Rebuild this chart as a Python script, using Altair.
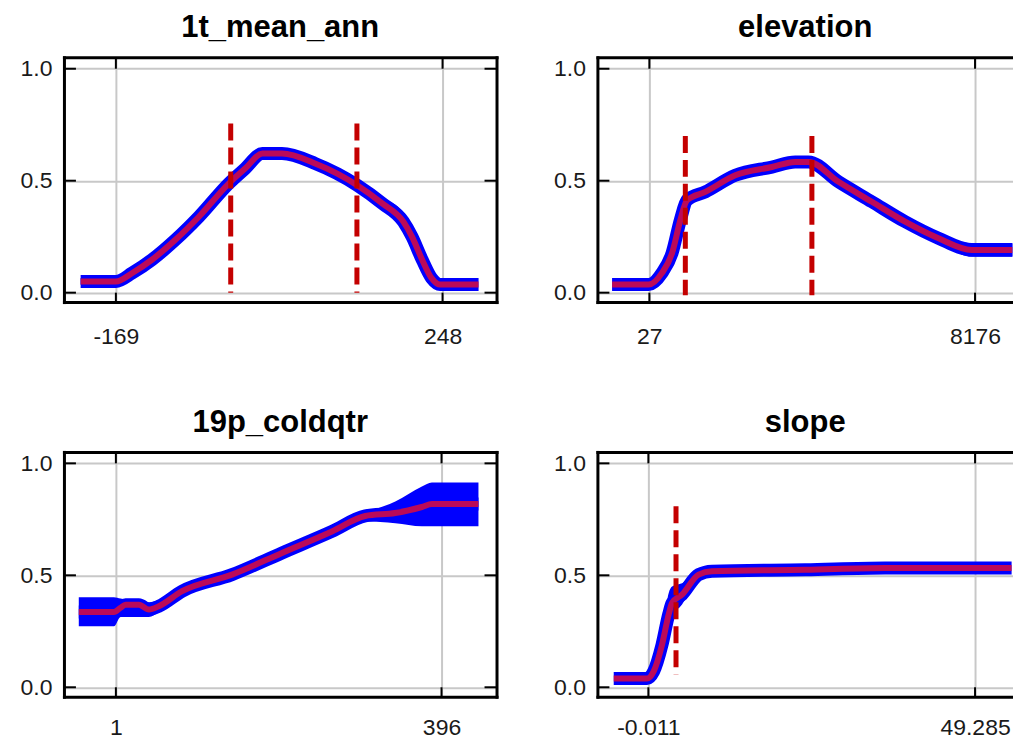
import altair as alt
import pandas as pd

# ---------------- data ----------------
# panel 1: 1t_mean_ann
p1_x = [-214, -169, -148, -123, -93, -63, -25, -4, 18, 43, 86, 139, 171, 198, 209, 222, 234, 245, 294]
p1_m = [0.05, 0.05, 0.088, 0.147, 0.236, 0.339, 0.487, 0.554, 0.621, 0.621, 0.576, 0.48, 0.399, 0.317, 0.25, 0.147, 0.065, 0.036, 0.036]
p1_lo = [0.035, 0.035, 0.063, 0.117, 0.206, 0.309, 0.467, 0.549, 0.621, 0.621, 0.576, 0.47, 0.385, 0.3, 0.235, 0.147, 0.065, 0.036, 0.036]
p1_hi = [0.065, 0.065, 0.113, 0.177, 0.266, 0.369, 0.507, 0.559, 0.621, 0.621, 0.576, 0.49, 0.425, 0.355, 0.27, 0.147, 0.065, 0.036, 0.036]
p1_ticks = [-169, 248]
p1_dash_x = [-22.4, 138.7]
p1_dash_top = [0.755, 0.755]
p1_dash_bot = [0.0, 0.0]

# panel 2: elevation
p2_x = [-906, 10, 344, 594, 802, 969, 1427, 2177, 3094, 3677, 4010, 4760, 5594, 6426, 7260, 8093, 9110]
p2_m = [0.036, 0.036, 0.088, 0.176, 0.324, 0.413, 0.45, 0.524, 0.561, 0.584, 0.584, 0.495, 0.406, 0.317, 0.243, 0.191, 0.191]
p2_lo = [0.036, 0.036, 0.088, 0.176, 0.324, 0.4, 0.44, 0.515, 0.555, 0.584, 0.584, 0.49, 0.398, 0.305, 0.228, 0.16, 0.16]
p2_hi = [0.036, 0.036, 0.088, 0.176, 0.324, 0.435, 0.47, 0.535, 0.565, 0.584, 0.584, 0.5, 0.41, 0.325, 0.255, 0.222, 0.222]
p2_ticks = [27, 8176]
p2_dash_x = [927, 4094]
p2_dash_top = [0.70, 0.70]
p2_dash_bot = [-0.012, -0.012]

# panel 3: 19p_coldqtr
p3_x = [-44, -1.4, 6.7, 12.8, 28.9, 41, 53.1, 81.3, 141.8, 202.5, 263.1, 303.5, 339.9, 372.2, 384.3, 440.8]
p3_m = [0.336, 0.336, 0.355, 0.369, 0.369, 0.347, 0.362, 0.429, 0.503, 0.6, 0.696, 0.765, 0.778, 0.805, 0.818, 0.818]
p3_lo = [0.272, 0.272, 0.314, 0.314, 0.314, 0.314, 0.335, 0.415, 0.49, 0.585, 0.68, 0.74, 0.733, 0.719, 0.719, 0.719]
p3_hi = [0.402, 0.402, 0.396, 0.391, 0.391, 0.38, 0.39, 0.445, 0.515, 0.615, 0.71, 0.778, 0.83, 0.897, 0.915, 0.915]
p3_ticks = [1, 396]

# panel 4: slope
p4_x = [-5.24, -0.21, 0.79, 2.05, 3.05, 3.56, 5.07, 7.57, 9.59, 23.66, 35.7, 54.8]
p4_m = [0.039, 0.039, 0.071, 0.19, 0.325, 0.376, 0.414, 0.503, 0.518, 0.525, 0.533, 0.533]
p4_lo = [0.039, 0.039, 0.071, 0.17, 0.26, 0.31, 0.37, 0.495, 0.518, 0.525, 0.533, 0.533]
p4_hi = [0.039, 0.039, 0.071, 0.23, 0.42, 0.45, 0.465, 0.515, 0.518, 0.525, 0.533, 0.533]
p4_ticks = [-0.011, 49.285]
p4_dash_x = [4.16]
p4_dash_top = [0.808]
p4_dash_bot = [0.057]

y_ticks = [0.0, 0.5, 1.0]
y_domain = [-0.042, 1.051]

BLUE = "#0000ff"
RED = "#dc0c3c"
DASH = "#c40000"
H = 245
TICK_LEN = 12


def panel(title, xs, ms, los, his, xdom, ticks, width, label_pad, dash=None, right_frame=True):
    df = pd.DataFrame({"x": xs, "m": ms, "lo": los, "hi": his})
    tdf = pd.DataFrame({"t": ticks})
    ydf = pd.DataFrame({"v": y_ticks})
    xsc = alt.Scale(domain=xdom, nice=False, zero=False)
    ysc = alt.Scale(domain=y_domain, nice=False, zero=False)

    ax_bottom = alt.Axis(orient="bottom", values=ticks, labelExpr="'' + datum.value",
                         grid=True, ticks=False, tickSize=0, labelPadding=label_pad, title=None,
                         labelFlush=False)
    ax_left = alt.Axis(orient="left", values=y_ticks, format=".1f", grid=True,
                       ticks=False, tickSize=0, labelPadding=12, title=None)
    ax_top = alt.Axis(orient="top", labels=False, grid=False, ticks=False, tickSize=0, title=None)
    ax_right = alt.Axis(orient="right", labels=False, grid=False, ticks=False, tickSize=0,
                        title=None) if right_frame else None

    band = alt.Chart(df).mark_area(color=BLUE, clip=True, interpolate="monotone").encode(
        x=alt.X("x:Q", scale=xsc, axis=ax_bottom),
        y=alt.Y("lo:Q", scale=ysc, axis=ax_left),
        y2="hi:Q",
    )
    top_ticks = alt.Chart(tdf).mark_rule(color="black", strokeWidth=2).encode(
        x=alt.X("t:Q", scale=xsc, axis=ax_top),
        y=alt.Y(datum=1.0, scale=ysc, axis=ax_right),
        y2=alt.value(0),
    )
    blue_line = alt.Chart(df).mark_line(color=BLUE, strokeWidth=13, clip=True,
                                        interpolate="monotone").encode(
        x=alt.X("x:Q", scale=xsc, axis=None),
        y=alt.Y("m:Q", scale=ysc, axis=None),
    )
    red_line = alt.Chart(df).mark_line(color=RED, strokeWidth=6, opacity=0.85, clip=True,
                                       interpolate="monotone").encode(
        x=alt.X("x:Q", scale=xsc, axis=None),
        y=alt.Y("m:Q", scale=ysc, axis=None),
    )
    bot_ticks = alt.Chart(tdf).mark_rule(color="black", strokeWidth=2).encode(
        x=alt.X("t:Q", scale=xsc, axis=None),
        y=alt.Y(datum=0.0, scale=ysc, axis=None),
        y2=alt.value(H),
    )
    left_ticks = alt.Chart(ydf).mark_rule(color="black", strokeWidth=2).encode(
        y=alt.Y("v:Q", scale=ysc, axis=None),
        x=alt.value(0),
        x2=alt.value(TICK_LEN),
    )
    layers = [band, top_ticks, blue_line, red_line, bot_ticks, left_ticks]
    if right_frame:
        right_ticks = alt.Chart(ydf).mark_rule(color="black", strokeWidth=2).encode(
            y=alt.Y("v:Q", scale=ysc, axis=None),
            x=alt.value(width - TICK_LEN),
            x2=alt.value(width),
        )
        layers.append(right_ticks)
    if dash is not None:
        ddf = pd.DataFrame({"dx": dash[0], "top": dash[1], "bot": dash[2]})
        dashes = alt.Chart(ddf).mark_rule(color=DASH, strokeWidth=5, strokeDash=[17, 7]).encode(
            x=alt.X("dx:Q", scale=xsc, axis=None),
            y=alt.Y("top:Q", scale=ysc, axis=None),
            y2="bot:Q",
        )
        layers.append(dashes)
    return alt.layer(*layers).resolve_axis(x="independent", y="independent").properties(
        width=width, height=H, title=alt.Title(title, offset=12)
    )


WL = 433
WR = 416
p1 = panel("1t_mean_ann", p1_x, p1_m, p1_lo, p1_hi, [-235.3, 316.9], p1_ticks, WL, 23,
           dash=(p1_dash_x, p1_dash_top, p1_dash_bot))
p2 = panel("elevation", p2_x, p2_m, p2_lo, p2_hi, [-1272.8, 9125.9], p2_ticks, WR, 23,
           dash=(p2_dash_x, p2_dash_top, p2_dash_bot), right_frame=False)
p3 = panel("19p_coldqtr", p3_x, p3_m, p3_lo, p3_hi, [-62.0, 462.7], p3_ticks, WL, 20)
p4 = panel("slope", p4_x, p4_m, p4_lo, p4_hi, [-7.70, 55.01], p4_ticks, WR, 20,
           dash=(p4_dash_x, p4_dash_top, p4_dash_bot), right_frame=False)

chart = alt.vconcat(
    alt.hconcat(p1, p2, spacing=56),
    alt.hconcat(p3, p4, spacing=56),
    spacing=59,
).properties(
    padding={"left": 12, "top": 4, "right": 0, "bottom": 0},
    background="white",
).configure_view(stroke=None).configure_axis(
    labelFont="Liberation Sans", labelFontSize=23, labelColor="#1a1a1a",
    gridColor="#c8c8c8", gridWidth=2, gridOpacity=1,
    domainColor="black", domainWidth=3, domainCap="square",
).configure_title(
    font="Liberation Sans", fontSize=31, fontWeight="bold", anchor="middle", color="black"
)

chart.save("out.html", embed_options={"renderer": "svg", "actions": False})
